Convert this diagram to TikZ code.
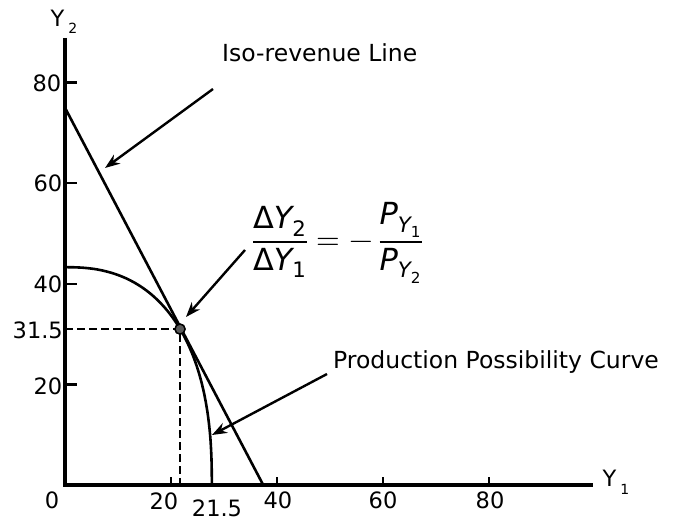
\documentclass[tikz,border=0pt]{standalone}
\usepackage{amsmath}
\usepackage{fontspec}
\usepackage{unicode-math}
\setmainfont{DejaVu Sans}
\usetikzlibrary{arrows.meta}
\newcommand{\vY}{\text{\itshape Y}}
\newcommand{\vP}{\text{\itshape P}}
\begin{document}
\begin{tikzpicture}[x=1pt,y=1pt,
  axis/.style={line width=3.4pt},
  curve/.style={line width=2.6pt},
  tickmark/.style={line width=2.4pt},
  pointer/.style={line width=2.4pt,-{Stealth[length=15pt,width=11pt]}},
  ticklab/.style={font=\fontsize{22.5}{24}\selectfont, inner sep=0pt},
  lab/.style={font=\fontsize{23.5}{28}\selectfont, inner sep=0pt, anchor=base west},
  guide/.style={line width=2.6pt, dash pattern=on 8pt off 4pt},
  dot/.style={circle, fill=black!65, draw=black, line width=1.4pt, minimum size=10pt, inner sep=0pt}
]
\useasboundingbox (0,0) rectangle (682,522);
% axes
\coordinate (O) at (65,37);
\coordinate (ytop) at (65,484);
\coordinate (xend) at (593,37);
\draw[axis] (ytop) -- (O) -- (xend);

\begin{scope}[shift={(65,37)}, x=5.3pt, y=5.03pt]
  % y ticks
  \foreach \v in {20,40,60,80} \draw[tickmark] (0,\v) -- (2.2,\v);
  % x ticks
  \foreach \v in {20,40,60,80} \draw[tickmark] (\v,0) -- (\v,1.6);
  % tangency point
  \node[dot] (T) at (21.7,31) {};
  \coordinate (Ty) at (0,31);
  \coordinate (Tx) at (21.7,0);
  \draw[guide] (Ty) -- (T.center) -- (Tx);
  % iso-revenue line
  \coordinate (L1) at (0,75);
  \coordinate (L2) at (37.4,0);
  \draw[curve] (L1) -- (L2);
  % production possibility curve
  \draw[curve] plot[domain=0.01:89.99, samples=90, smooth]
     ({27.7*pow(cos(\x),0.826)},{43.3*pow(sin(\x),0.826)});
  \node[dot] at (T) {};
\end{scope}

% tick labels
\node[ticklab] (y80) at (47,439) {80};
\node[ticklab] (y60) at (48,339) {60};
\node[ticklab] (y40) at (48,238) {40};
\node[ticklab] (y20) at (48,136) {20};
\node[ticklab, anchor=east] (y315) at (63,192) {31.5};
\node[ticklab] (x0) at (52,22) {0};
\node[ticklab] (x20) at (164,21) {20};
\node[ticklab] (x215) at (217,14) {21.5};
\node[ticklab] (x40) at (278,22) {40};
\node[ticklab] (x60) at (383,22) {60};
\node[ticklab] (x80) at (490,22) {80};

% axis names
\node[ticklab] (Y2) at (64,500) {Y\hspace{4pt}\raisebox{-7pt}{\fontsize{14}{14}\selectfont 2}};
\node[ticklab] (Y1) at (616,40) {Y\hspace{4pt}\raisebox{-8pt}{\fontsize{14}{14}\selectfont 1}};

% labels
\node[lab] (iso) at (222,460) {Iso-revenue Line};
\node[lab] (ppc) at (333,153) {Production Possibility Curve};
\node[inner sep=0pt, anchor=west] (eq) at (251,279)
  {\scalebox{1.52}{\fontsize{20}{24}\selectfont$\dfrac{\text{Δ}\vY_{\text{2}}}{\text{Δ}\vY_{\text{1}}}=-\,\dfrac{\vP_{\vY_{\text{1}}}}{\vP_{\vY_{\text{2}}}}$}};

% pointers
\coordinate (a1s) at (213,433);
\coordinate (a1e) at (105,354);
\draw[pointer] (a1s) -- (a1e);
\coordinate (a2s) at (245,272);
\coordinate (a2e) at (186,205);
\draw[pointer] (a2s) -- (a2e);
\coordinate (a3s) at (327,148);
\coordinate (a3e) at (212,87);
\draw[pointer] (a3s) -- (a3e);
\end{tikzpicture}
\end{document}
